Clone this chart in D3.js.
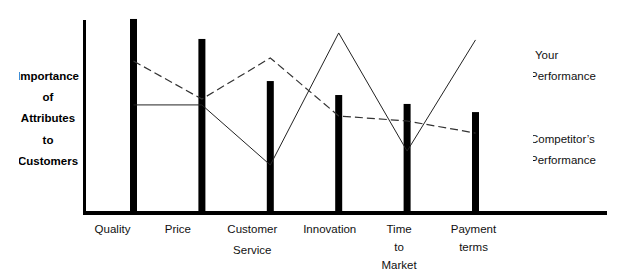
<!DOCTYPE html>
<html>
<head>
<meta charset="utf-8">
<script src="https://cdn.jsdelivr.net/npm/d3@7"></script>
<style>
  body { margin: 0; background: #fff; }
  svg { display: block; font-family: "Liberation Sans", Arial, sans-serif; }
</style>
</head>
<body>
<div id="chart"></div>
<script>
// datos (escala 0-100)
const categorias = ["Quality", "Price", "Customer Service", "Innovation", "Time to Market", "Payment terms"];
const etiquetas = [["Quality"], ["Price"], ["Customer", "Service"], ["Innovation"], ["Time", "to", "Market"], ["Payment", "terms"]];
const importancia = [99.5, 89.2, 67.5, 60.3, 55.7, 51.5];
const tuRendimiento = [55.2, 55.2, 24.2, 92.3, 31.4, 88.7];
const competidor = [77.8, 58.2, 79.4, 49.5, 46.9, 40.7];
const tituloY = ["Importance", "of", "Attributes", "to", "Customers"];
const leyenda = [["Your", "Performance"], ["Competitor\u2019s", "Performance"]];

const width = 632, height = 273;

const svg = d3.select("#chart").append("svg")
  .attr("width", width)
  .attr("height", height);

const x = d3.scalePoint().domain(categorias).range([133.5, 475.5]);
const y = d3.scaleLinear().domain([0, 100]).range([212, 18]);

// barras de importancia
svg.selectAll(".barra")
  .data(categorias)
  .join("rect")
  .attr("class", "barra")
  .attr("x", d => x(d) - 3.5)
  .attr("width", 7)
  .attr("y", (d, i) => y(importancia[i]))
  .attr("height", (d, i) => y(0) - y(importancia[i]))
  .attr("fill", "#000");

// lineas de rendimiento
const linea = d3.line()
  .x((d, i) => x(categorias[i]))
  .y(d => y(d));

svg.append("path")
  .attr("d", linea(tuRendimiento))
  .attr("fill", "none")
  .attr("stroke", "#222")
  .attr("stroke-width", 1);

svg.append("path")
  .attr("d", linea(competidor))
  .attr("fill", "none")
  .attr("stroke", "#333")
  .attr("stroke-width", 1.2)
  .attr("stroke-dasharray", "8,4");

// ejes
svg.append("line")
  .attr("x1", 84.5).attr("x2", 84.5)
  .attr("y1", 20).attr("y2", 215)
  .attr("stroke", "#000").attr("stroke-width", 3);

svg.append("line")
  .attr("x1", 83).attr("x2", 607)
  .attr("y1", y(0) + 1).attr("y2", y(0) + 1)
  .attr("stroke", "#000").attr("stroke-width", 4);

// etiquetas de categorias
const desplaz = [-21, -24, -18, -9, -8, -2];
etiquetas.forEach((lineas, i) => {
  const t = svg.append("text")
    .attr("text-anchor", "middle")
    .attr("font-size", "11.5px")
    .attr("fill", "#111");
  lineas.forEach((l, j) => {
    t.append("tspan")
      .attr("x", x(categorias[i]) + desplaz[i])
      .attr("y", 233 + j * (lineas.length === 2 && i === 2 ? 21 : 18))
      .text(l);
  });
});

// titulo del eje Y (recortado a la izquierda como en el original)
svg.append("clipPath").attr("id", "recorteY")
  .append("rect").attr("x", 19).attr("y", 0).attr("width", 70).attr("height", height);

const gTitulo = svg.append("g").attr("clip-path", "url(#recorteY)");
tituloY.forEach((l, i) => {
  gTitulo.append("text")
    .attr("x", 48)
    .attr("y", 80 + i * 21.2)
    .attr("text-anchor", "middle")
    .attr("font-size", "11.5px")
    .attr("font-weight", "bold")
    .text(l);
});

// leyenda
svg.append("clipPath").attr("id", "recorteL")
  .append("rect").attr("x", 533).attr("y", 0).attr("width", 99).attr("height", height);

const gLeyenda = svg.append("g").attr("clip-path", "url(#recorteL)");
leyenda.forEach((par, i) => {
  par.forEach((l, j) => {
    gLeyenda.append("text")
      .attr("x", (i === 0 && j === 0) ? 535 : 530)
      .attr("y", 59 + i * 84 + j * 21)
      .attr("font-size", "11.5px")
      .attr("fill", "#111")
      .text(l);
  });
});
</script>
</body>
</html>
